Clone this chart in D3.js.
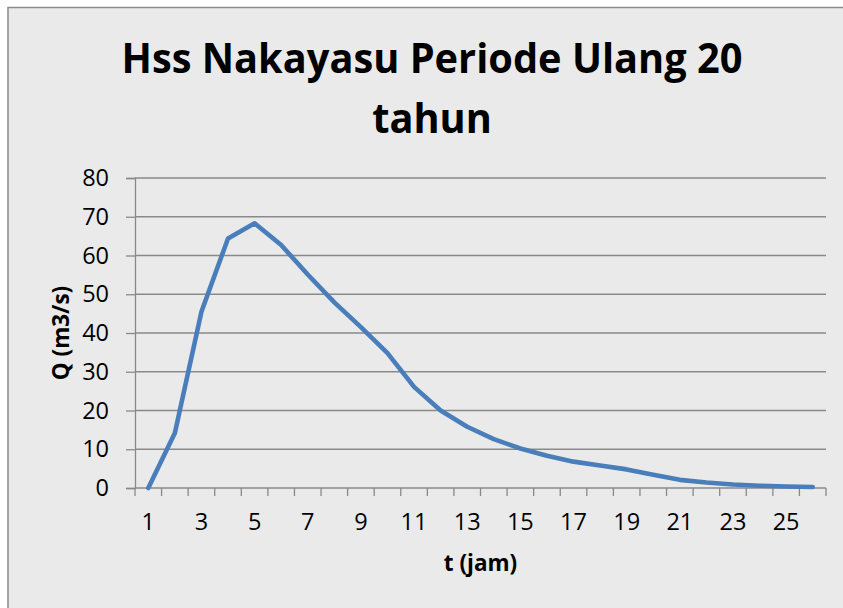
<!DOCTYPE html>
<html>
<head>
<meta charset="utf-8">
<script src="https://cdn.jsdelivr.net/npm/d3@7"></script>
<style>
	body { margin: 0; background: #ffffff; overflow: hidden; }
	text { font-family: "Open Sans", "Noto Sans", sans-serif; fill: #000000; }
</style>
</head>
<body>
<div id="graph"></div>
<script>
// data
var jam = [1, 2, 3, 4, 5, 6, 7, 8, 9, 10, 11, 12, 13, 14, 15, 16, 17, 18, 19, 20, 21, 22, 23, 24, 25, 26];
var debit = [0, 14.2, 45.5, 64.4, 68.3, 62.7, 55.1, 47.9, 41.5, 34.8, 26.1, 20.0, 15.8, 12.6, 10.2, 8.3, 6.8, 5.8, 4.8, 3.4, 2.1, 1.4, 0.9, 0.6, 0.4, 0.25];
var yTicks = [0, 10, 20, 30, 40, 50, 60, 70, 80];
var xLabels = [1, 3, 5, 7, 9, 11, 13, 15, 17, 19, 21, 23, 25];
var judul = ['Hss Nakayasu Periode Ulang 20', 'tahun'];

var W = 843, H = 608;
var plot = {left: 135, right: 826, top: 178, bottom: 488};

var svg = d3.select('#graph').append('svg')
	.attr('width', W)
	.attr('height', H)
	.style('display', 'block');

// chart area (cut off at right and bottom like the screenshot)
svg.append('rect')
	.attr('x', 8)
	.attr('y', 7.5)
	.attr('width', 880)
	.attr('height', 640)
	.attr('fill', '#eaeaea')
	.attr('stroke', '#8a8a8a')
	.attr('stroke-width', 1.5);

var x = d3.scaleBand()
	.domain(jam)
	.range([plot.left, plot.right]);

var y = d3.scaleLinear()
	.domain([0, 80])
	.range([plot.bottom, plot.top]);

// gridlines
svg.append('g')
	.selectAll('line')
	.data(yTicks)
	.enter().append('line')
	.attr('x1', plot.left)
	.attr('x2', plot.right)
	.attr('y1', function(d) { return y(d); })
	.attr('y2', function(d) { return y(d); })
	.attr('stroke', '#898989')
	.attr('stroke-width', 1.3);

// y axis
var yAxis = d3.axisLeft(y)
	.tickValues(yTicks)
	.tickSize(9)
	.tickPadding(17);

var gy = svg.append('g')
	.attr('transform', 'translate(' + plot.left + ',0)')
	.call(yAxis);
gy.select('.domain').attr('stroke', '#898989').attr('stroke-width', 1.3);
gy.selectAll('.tick line').attr('stroke', '#898989').attr('stroke-width', 1.3);
gy.selectAll('.tick text')
	.style('font-family', '"Open Sans", sans-serif')
	.style('font-size', '23.5px')
	.attr('fill', '#000');

// x axis: ticks on category edges, labels on odd hours
var edges = jam.map(function(d) { return x(d); });
edges.push(x(jam[jam.length - 1]) + x.bandwidth());

var gx = svg.append('g');
gx.selectAll('line.tk')
	.data(edges)
	.enter().append('line')
	.attr('class', 'tk')
	.attr('x1', function(d) { return d; })
	.attr('x2', function(d) { return d; })
	.attr('y1', plot.bottom)
	.attr('y2', plot.bottom + 8)
	.attr('stroke', '#898989')
	.attr('stroke-width', 1.3);

gx.selectAll('text')
	.data(xLabels)
	.enter().append('text')
	.attr('x', function(d) { return x(d) + x.bandwidth() / 2; })
	.attr('y', 530)
	.attr('text-anchor', 'middle')
	.style('font-size', '23.5px')
	.text(function(d) { return d; });

// the line
var line = d3.line()
	.x(function(d, i) { return x(jam[i]) + x.bandwidth() / 2; })
	.y(function(d) { return y(d); });

svg.append('path')
	.datum(debit)
	.attr('d', line)
	.attr('fill', 'none')
	.attr('stroke', '#4a7ebb')
	.attr('stroke-width', 4.6)
	.attr('stroke-linejoin', 'round')
	.attr('stroke-linecap', 'round');

// title, squeezed to the width of the original narrow font
var t1 = svg.append('text')
	.attr('x', 432)
	.attr('y', 72.5)
	.attr('text-anchor', 'middle')
	.style('font-size', '42px')
	.style('font-weight', 'bold')
	.text(judul[0]);
var rasio = 621 / t1.node().getComputedTextLength();
t1.attr('textLength', 621).attr('lengthAdjust', 'spacingAndGlyphs');

var t2 = svg.append('text')
	.attr('x', 432)
	.attr('y', 133)
	.attr('text-anchor', 'middle')
	.style('font-size', '42px')
	.style('font-weight', 'bold')
	.text(judul[1]);
t2.attr('textLength', t2.node().getComputedTextLength() * rasio).attr('lengthAdjust', 'spacingAndGlyphs');

// axis titles
svg.append('text')
	.attr('x', (plot.left + plot.right) / 2)
	.attr('y', 571)
	.attr('text-anchor', 'middle')
	.style('font-size', '22.5px')
	.style('font-weight', 'bold')
	.text('t (jam)');

svg.append('text')
	.attr('transform', 'translate(69,' + (plot.top + plot.bottom) / 2 + ') rotate(-90)')
	.attr('text-anchor', 'middle')
	.style('font-size', '22.5px')
	.style('font-weight', 'bold')
	.text('Q (m3/s)');
</script>
</body>
</html>
